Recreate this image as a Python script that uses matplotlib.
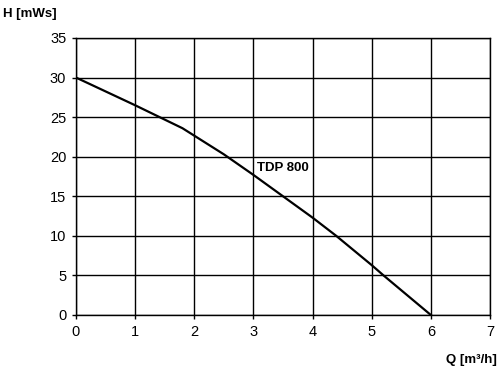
import matplotlib.pyplot as plt

# pump curve TDP 800
q = [0, 1, 1.8, 2.5, 3, 3.5, 4, 4.4, 5, 5.2, 6]
h = [30, 26.5, 23.6, 20.3, 17.7, 15.0, 12.3, 10.0, 6.3, 5.0, 0]
x_ticks = [0, 1, 2, 3, 4, 5, 6, 7]
y_ticks = [0, 5, 10, 15, 20, 25, 30, 35]

plt.rcParams['font.family'] = ['Liberation Sans', 'DejaVu Sans']

fig = plt.figure(figsize=(5, 3.75), dpi=100)
ax = fig.add_axes([0.152, 0.16, 0.828, 0.7387])

ax.plot(q, h, color='black', linewidth=1.6)

ax.set_xlim(0, 7)
ax.set_ylim(0, 35)
ax.set_xticks(x_ticks)
ax.set_yticks(y_ticks)
ax.grid(True, color='black', linewidth=1.0)
ax.tick_params(direction='out', length=3, width=1, colors='black', labelsize=10.5, pad=4)
for s in ax.spines.values():
    s.set_linewidth(1.0)

ax.text(3.06, 18.6, 'TDP 800', fontsize=9.5, fontweight='bold', va='center', ha='left')
fig.text(0.006, 0.962, 'H [mWs]', fontsize=9.5, fontweight='bold', va='center', ha='left')
fig.text(0.994, 0.04, 'Q [m³/h]', fontsize=9.5, fontweight='bold', va='center', ha='right')

fig.savefig('out.png', dpi=100)
